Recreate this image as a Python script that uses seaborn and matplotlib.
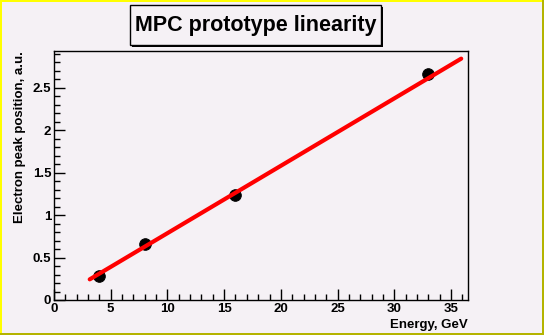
import numpy as np
import pandas as pd
import seaborn as sns
import matplotlib
matplotlib.use("Agg")
import matplotlib.pyplot as plt
from matplotlib.patches import Rectangle
from matplotlib.ticker import MultipleLocator

energy = [4, 8, 16, 33]
peak = [0.28, 0.66, 1.235, 2.665]
fit_x = [3.15, 35.9]
fit_y = [0.243, 2.84]

sns.set_theme(style="white")
plt.rcParams['font.family'] = ['Liberation Sans', 'DejaVu Sans']
plt.rcParams['text.color'] = 'black'
plt.rcParams['axes.labelcolor'] = 'black'
plt.rcParams['xtick.color'] = 'black'
plt.rcParams['ytick.color'] = 'black'

bg = "#f5f1f5"
W, H = 544, 335
fig = plt.figure(figsize=(W / 100, H / 100), dpi=100, facecolor=bg)

ax = fig.add_axes([54 / W, 1 - 300 / H, (468 - 54) / W, (300 - 51) / H])
ax.set_facecolor(bg)

df = pd.DataFrame({"Energy": energy, "Peak": peak})
fit = pd.DataFrame({"x": fit_x, "y": fit_y})
sns.lineplot(data=fit, x="x", y="y", ax=ax, color="#ff0000", linewidth=3, zorder=3)
sns.scatterplot(data=df, x="Energy", y="Peak", ax=ax, color="black", s=70,
                edgecolor="black", zorder=2)

ax.set_xlim(0, 36.5)
ax.set_ylim(0, 2.93)
ax.xaxis.set_minor_locator(MultipleLocator(1))
ax.yaxis.set_minor_locator(MultipleLocator(0.1))
ax.set_xticks([0, 5, 10, 15, 20, 25, 30, 35])
ax.set_xticklabels(["0", "5", "10", "15", "20", "25", "30", "35"])
ax.set_yticks([0, 0.5, 1, 1.5, 2, 2.5])
ax.set_yticklabels(["0", "0.5", "1", "1.5", "2", "2.5"])
ax.tick_params(axis="both", which="major", direction="in", length=8, width=1,
               color="black", labelcolor="black", labelsize=9.5, pad=2,
               bottom=True, left=True, top=False, right=False)
ax.tick_params(axis="both", which="minor", direction="in", length=4, width=1,
               color="black", bottom=True, left=True, top=False, right=False)
for lab in ax.get_xticklabels() + ax.get_yticklabels():
    lab.set_fontweight("bold")
for s in ax.spines.values():
    s.set_color("black")
    s.set_linewidth(1)

ax.set_xlabel("Energy, GeV", fontsize=9.5, fontweight="bold", loc="right",
              labelpad=3, color="black")
ax.set_ylabel("Electron peak position, a.u.", fontsize=9.5, fontweight="bold",
              loc="top", labelpad=5, color="black")

# title box with shadow
fig.patches.append(Rectangle((132 / W, 1 - 47 / H), 251 / W, 40 / H,
                             transform=fig.transFigure, facecolor="black",
                             edgecolor="none", zorder=1))
fig.patches.append(Rectangle((130 / W, 1 - 45 / H), 251 / W, 40 / H,
                             transform=fig.transFigure, facecolor=bg,
                             edgecolor="black", linewidth=1, zorder=2))
fig.text(256 / W, 1 - 26 / H, "MPC prototype linearity", fontsize=15.5,
         fontweight="bold", ha="center", va="center", color="black", zorder=3)

# ROOT-style bevel border
lw = 2 * 0.72
fig.add_artist(plt.Line2D([1 / W, 1 / W], [0, 1], transform=fig.transFigure,
                          color="#ffff00", linewidth=lw))
fig.add_artist(plt.Line2D([0, 1], [1 - 1 / H, 1 - 1 / H], transform=fig.transFigure,
                          color="#ffff00", linewidth=lw))
fig.add_artist(plt.Line2D([1 - 1 / W, 1 - 1 / W], [0, 1], transform=fig.transFigure,
                          color="#b4b400", linewidth=lw))
fig.add_artist(plt.Line2D([0, 1], [1 / H, 1 / H], transform=fig.transFigure,
                          color="#b4b400", linewidth=lw))

fig.savefig("out.png", dpi=100, facecolor=bg)
